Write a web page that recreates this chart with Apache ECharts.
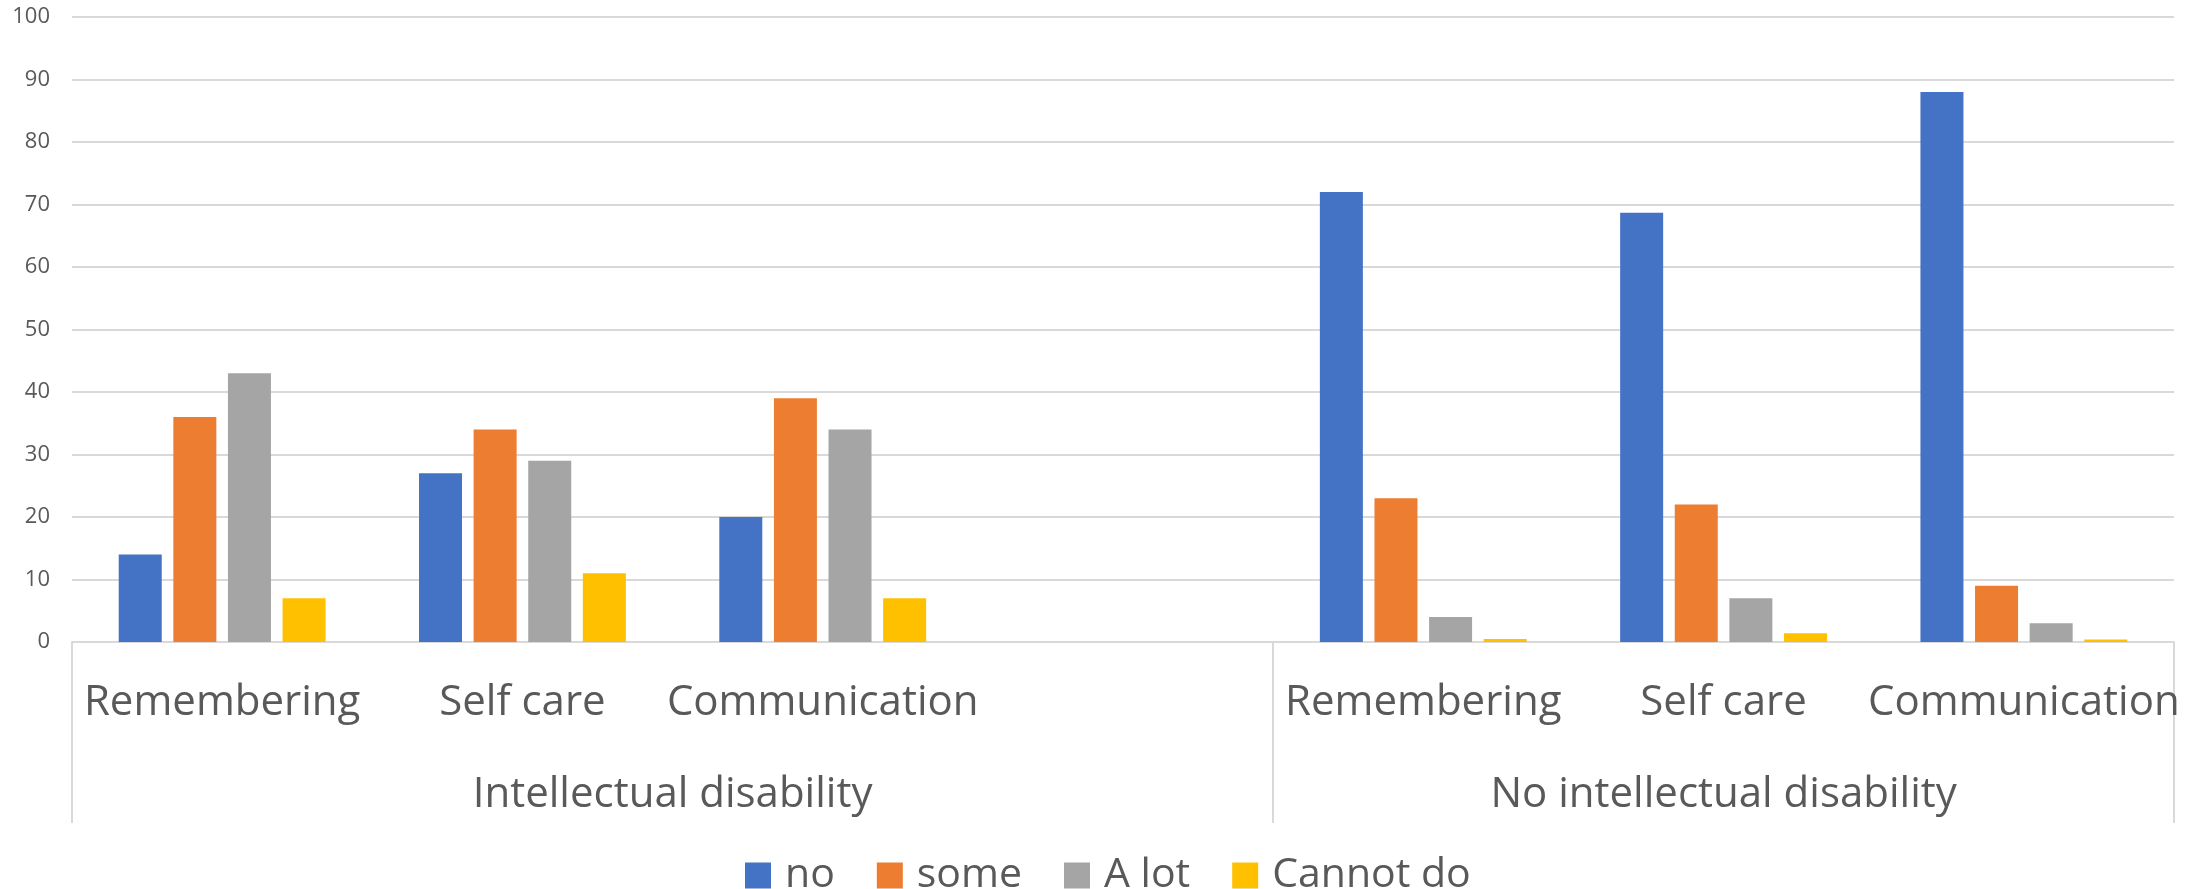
<!DOCTYPE html>
<html>
<head>
<meta charset="utf-8">
<script src="https://cdn.jsdelivr.net/npm/echarts@6/dist/echarts.min.js"></script>
<style>
html,body{margin:0;padding:0;background:#fff;}
#chart{width:2201px;height:889px;}
</style>
</head>
<body>
<div id="chart"></div>
<script>
// ---- data ----
var categories = ['Remembering', 'Self care', 'Communication', '', 'Remembering', 'Self care', 'Communication'];
var groupNames = ['Intellectual disability', 'No intellectual disability'];
var groupStartIndex = [0, 4];           // category index where each group begins
var seriesNames = ['no', 'some', 'A lot', 'Cannot do'];
var noValues       = [14, 27, 20, '-', 72, 68.7, 88];
var someValues     = [36, 34, 39, '-', 23, 22, 9];
var aLotValues     = [43, 29, 34, '-', 4, 7, 3];
var cannotDoValues = [7, 11, 7, '-', 0.5, 1.4, 0.4];
var yTicks = { min: 0, max: 100, interval: 10 };

var colors = ['#4472C4', '#ED7D31', '#A5A5A5', '#FFC000'];
var allValues = [noValues, someValues, aLotValues, cannotDoValues];
var FONT = 'Open Sans';
var TXT = '#595959';
var LINE = '#d9d9d9';

// group label positions on a 0..N value axis (centre of each group's span)
var groupCentres = groupStartIndex.map(function (s, i) {
  var e = i + 1 < groupStartIndex.length ? groupStartIndex[i + 1] : categories.length;
  return (s + e) / 2;
});

var chart = echarts.init(document.getElementById('chart'), null, { renderer: 'canvas' });

var series = seriesNames.map(function (name, i) {
  return {
    name: name,
    type: 'bar',
    xAxisIndex: 0,
    data: allValues[i],
    barWidth: 43,
    barGap: '27%',
    itemStyle: { color: colors[i] }
  };
});

chart.setOption({
  animation: false,
  textStyle: { fontFamily: FONT },
  grid: { left: 72, right: 27, top: 17, bottom: 247, containLabel: false },
  legend: {
    data: seriesNames,
    left: 740,
    top: 850,
    itemWidth: 26,
    itemHeight: 26,
    itemGap: 42,
    icon: 'rect',
    textStyle: { fontFamily: FONT, fontSize: 41, color: TXT, padding: [0, 0, 0, 9] }
  },
  xAxis: [
    {
      type: 'category',
      data: categories,
      boundaryGap: true,
      axisLine: { show: true, lineStyle: { color: LINE, width: 2 } },
      axisTick: {
        show: true,
        length: 181,
        inside: false,
        interval: function (index) { return groupStartIndex.indexOf(index) >= 0; },
        lineStyle: { color: LINE, width: 2 }
      },
      axisLabel: {
        interval: 0,
        fontFamily: FONT,
        fontSize: 42,
        color: TXT,
        margin: 40
      }
    },
    {
      type: 'value',
      min: 0,
      max: categories.length,
      interval: 0.5,
      position: 'bottom',
      axisLine: { show: false },
      axisTick: { show: false },
      splitLine: { show: false },
      axisLabel: {
        fontFamily: FONT,
        fontSize: 42,
        color: TXT,
        margin: 132,
        showMinLabel: true,
        showMaxLabel: true,
        formatter: function (v) {
          var k = groupCentres.indexOf(v);
          return k >= 0 ? groupNames[k] : '';
        }
      }
    }
  ],
  yAxis: {
    type: 'value',
    min: yTicks.min,
    max: yTicks.max,
    interval: yTicks.interval,
    axisLine: { show: false },
    axisTick: { show: false },
    splitLine: { lineStyle: { color: LINE, width: 2 } },
    axisLabel: { fontFamily: FONT, fontSize: 22, color: TXT, margin: 22 }
  },
  series: series
});
</script>
</body>
</html>
